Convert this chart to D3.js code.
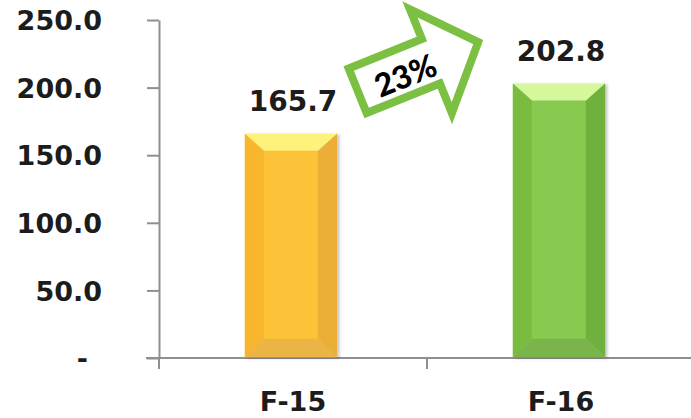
<!DOCTYPE html>
<html lang="en">
<head>
	<meta charset="UTF-8">
	<title>F-15 vs F-16</title>
	<script src="https://cdnjs.cloudflare.com/ajax/libs/d3/7.8.5/d3.min.js"></script>
	<style>
		*{
			padding: 0;
			margin: 0;
		}
		body{
			background: #fff;
			width: 691px;
			height: 418px;
			overflow: hidden;
		}
		text{
			font-family: "DejaVu Sans", Verdana, sans-serif;
			font-weight: bold;
			fill: #1c1c1c;
		}
		.axis line,.axis path{
			stroke: #8f8f8f;
			stroke-width: 2;
			fill: none;
		}
	</style>
</head>
<body>
	<div id="container"></div>
<script>
	// data
	var categories=['F-15','F-16']
	var values=[165.7,202.8]
	var yTicks=[0,50,100,150,200,250]
	var growthLabel='23%'

	var width=691,
	height=418,
	plotLeft=159,
	plotRight=695,
	plotTop=20,
	plotBottom=358

	// bar face colours: top, left, centre, right, bottom
	var faces={
		'F-15':['#fff27c','#f8b62f','#fcc237','#ebaf38','#ebb445'],
		'F-16':['#d6f79b','#79bc41','#88ca50','#6eb23c','#7ab44b']
	}

	var svg=d3.select('#container')
	.append('svg')
	.attr('width',width)
	.attr('height',height)

	var defs=svg.append('defs')
	defs.append('filter')
	.attr('id','shadow')
	.attr('x','-20%').attr('y','-10%').attr('width','140%').attr('height','120%')
	.append('feDropShadow')
	.attr('dx',2).attr('dy',1).attr('stdDeviation',1.5)
	.attr('flood-color','#000').attr('flood-opacity',0.25)

	var x=d3.scaleBand()
	.domain(categories)
	.range([plotLeft,plotRight])

	var y=d3.scaleLinear()
	.domain([0,250])
	.range([plotBottom,plotTop])

	// y axis
	var y_axis=d3.axisLeft(y)
	.tickValues(yTicks)
	.tickSize(12)
	.tickPadding(45)
	.tickSizeOuter(0)
	.tickFormat(function(d){return d===0?'-':d3.format('.1f')(d)})

	var gy=svg.append('g')
	.attr('class','axis')
	.attr('transform','translate('+plotLeft+',0)')
	.call(y_axis)
	gy.selectAll('text')
	.style('font-size','27px')
	.attr('dy','0.36em')
	.attr('dx',function(d){return d===0?-14:0})

	// x axis line and boundary ticks
	var gx=svg.append('g').attr('class','axis')
	gx.append('line')
	.attr('x1',plotLeft-13).attr('x2',plotRight)
	.attr('y1',y(0)).attr('y2',y(0))
	var bounds=categories.map(function(c){return x(c)}).concat([x(categories[categories.length-1])+x.step()])
	gx.selectAll('.bt')
	.data(bounds)
	.enter()
	.append('line')
	.attr('x1',function(d){return d}).attr('x2',function(d){return d})
	.attr('y1',y(0)).attr('y2',y(0)+11)

	svg.selectAll('.xl')
	.data(categories)
	.enter()
	.append('text')
	.attr('x',function(d){return x(d)+x.bandwidth()/2})
	.attr('y',411)
	.attr('text-anchor','middle')
	.style('font-size','27px')
	.text(function(d){return d})

	// bevelled bars
	var barW=92,b=19,bt=17,bb=18
	var bars=svg.selectAll('.bar')
	.data(values)
	.enter()
	.append('g')
	.attr('filter','url(#shadow)')

	bars.each(function(v,i){
		var c=categories[i],
		x0=x(c)+x.bandwidth()/2-barW/2-2,
		x1=x0+barW,
		y0=y(v),
		y1=y(0)-1,
		col=faces[c]
		var polys=[
			[[x0,y0],[x1,y0],[x1-b,y0+bt],[x0+b,y0+bt]],
			[[x0,y0],[x0+b,y0+bt],[x0+b,y1-bb],[x0,y1]],
			[[x0+b,y0+bt],[x1-b,y0+bt],[x1-b,y1-bb],[x0+b,y1-bb]],
			[[x1,y0],[x1,y1],[x1-b,y1-bb],[x1-b,y0+bt]],
			[[x0,y1],[x0+b,y1-bb],[x1-b,y1-bb],[x1,y1]]
		]
		d3.select(this).selectAll('path')
		.data(polys)
		.enter()
		.append('path')
		.attr('d',function(p){return 'M'+p.join('L')+'Z'})
		.attr('fill',function(p,k){return col[k]})
		.attr('stroke',function(p,k){return col[k]})
		.attr('stroke-width',0.5)
	})

	svg.selectAll('.vl')
	.data(values)
	.enter()
	.append('text')
	.attr('x',function(d,i){return x(categories[i])+x.bandwidth()/2})
	.attr('y',function(d){return y(d)-23})
	.attr('text-anchor','middle')
	.style('font-size','28px')
	.text(function(d){return d3.format('.1f')(d)})

	// growth arrow between the two bars
	var arrow=svg.append('g')
	.attr('transform','translate(354.5,91) rotate(-22)')
	arrow.append('path')
	.attr('d','M3,-23L82,-23L82,-55L133,1L82,57L82,25L3,25Z')
	.attr('fill','#fff')
	.attr('stroke','#7bc043')
	.attr('stroke-width',8)
	.attr('stroke-linejoin','miter')
	arrow.append('text')
	.attr('x',53)
	.attr('y',5)
	.attr('dy','0.35em')
	.attr('text-anchor','middle')
	.style('font-family','Lato, "Open Sans", sans-serif')
	.style('font-weight','900')
	.style('font-size','32px')
	.style('fill','#000')
	.text(growthLabel)
</script>
</body>
</html>
